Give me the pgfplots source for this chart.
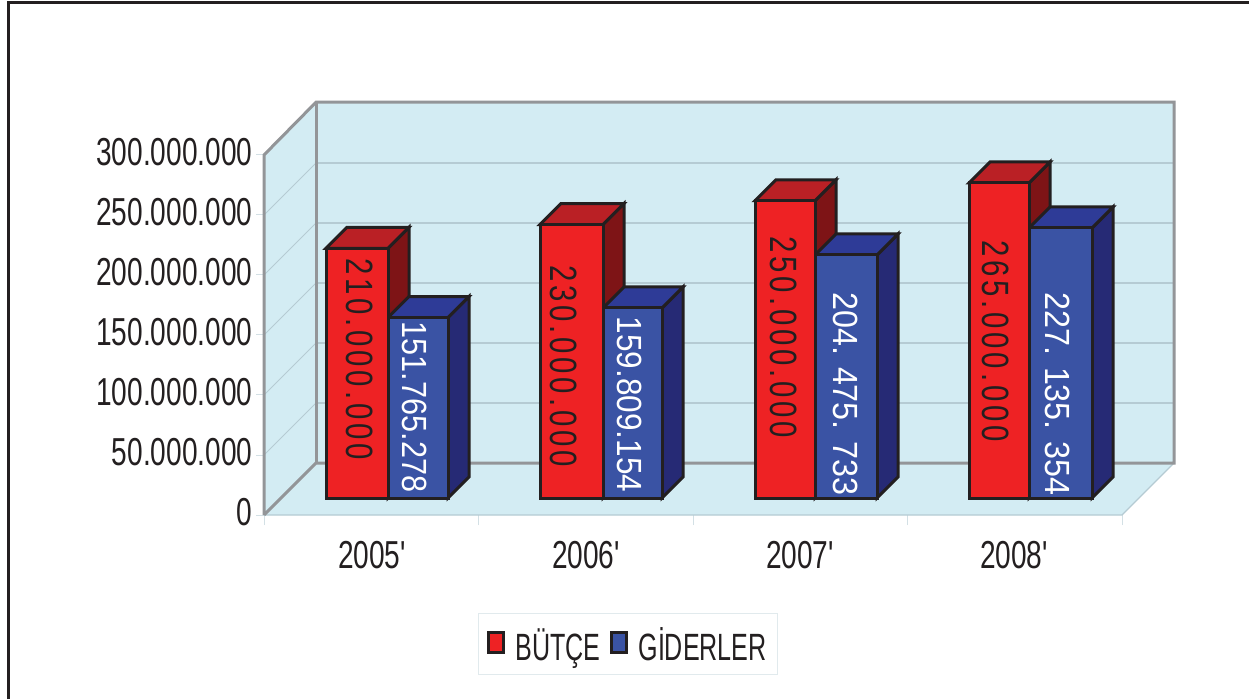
\documentclass[border=0pt]{standalone}
\usepackage{fontspec}
\usepackage{graphicx}
\usepackage{pgfplots}
\pgfplotsset{compat=1.18}
\setmainfont[FakeStretch=0.72, Ligatures=TeXOff]{Liberation Sans}
\newfontfamily\wide{Liberation Sans}
\newfontfamily\spaced[FakeStretch=0.8, LetterSpace=10.5]{Liberation Sans}
\newfontfamily\lgd[FakeStretch=0.66]{Liberation Sans}
\definecolor{ink}{HTML}{231F20}
\definecolor{wall}{HTML}{D3ECF3}
\definecolor{edge}{HTML}{939598}
\definecolor{gridc}{HTML}{B5CBD3}
\definecolor{redf}{HTML}{EE2224}
\definecolor{redt}{HTML}{BA2025}
\definecolor{reds}{HTML}{7E1416}
\definecolor{bluef}{HTML}{3A53A4}
\definecolor{bluet}{HTML}{2E3B97}
\definecolor{blues}{HTML}{262A75}
% top and side face of a bar: x0, x1, x1+depth, x0+depth, value, value+depth, colours
\newcommand{\cube}[8]{%
  \addplot[forget plot, draw=ink, line width=3pt, fill=#8] coordinates {(#2,0) (#3,17660000) (#3,#6) (#2,#5)} -- cycle;
  \addplot[forget plot, draw=ink, line width=3pt, fill=#7] coordinates {(#1,#5) (#4,#6) (#3,#6) (#2,#5)} -- cycle;
}
% values written down the bars: x, y, length scale, text
\newcommand{\redlab}[4]{\node[rotate=270, text=ink, inner sep=0pt] at (#1,{699-#2}) {\scalebox{#3}[1]{\spaced\fontsize{38}{38}\selectfont #4}};}
\newcommand{\bluelab}[4]{\node[rotate=270, text=white, inner sep=0pt] at (#1,{699-#2}) {\scalebox{#3}[0.92]{\wide\fontsize{38}{38}\selectfont #4}};}
\begin{document}
\begin{tikzpicture}[x=1pt,y=1pt]
\path[use as bounding box, fill=white] (0,0) rectangle (1249,699);
\draw[ink, line width=3pt] (8,0) -- (8,696) -- (1249,696);
% walls, floor, scale
\begin{axis}[
  at={(264pt,184pt)}, anchor=south west, scale only axis, width=858pt, height=360pt,
  xmin=264, xmax=1122, ymin=0, ymax=300000000, clip=false,
  axis line style={draw=none},
  xtick={372,586,800,1014}, xticklabels={2005',2006',2007',2008'},
  minor xtick={264,478.5,693,907.5,1122},
  ytick={0,50000000,100000000,150000000,200000000,250000000,300000000},
  xtick pos=bottom, ytick pos=left, tick align=outside,
  major tick length=8pt, minor tick length=10pt,
  major x tick style={draw=none},
  minor x tick style={draw=gridc!60, line width=1pt},
  major y tick style={draw=gridc!60, line width=1pt},
  scaled y ticks=false,
  /pgf/number format/fixed, /pgf/number format/1000 sep={.}, /pgf/number format/assume math mode=true,
  ticklabel style={font=\fontsize{39}{39}\selectfont, text=ink},
  yticklabel style={yshift=3pt, xshift=0pt},
  xticklabel style={yshift=-15pt},
]
\addplot[draw=none, fill=wall] coordinates {(316,344000000) (1174,344000000) (1174,43333333) (316,43333333)} -- cycle;
\addplot[draw=none, fill=wall] coordinates {(264,300000000) (316,344000000) (316,43333333) (264,0)} -- cycle;
\addplot[draw=none, fill=wall] coordinates {(264,0) (1122,0) (1174,43333333) (316,43333333)} -- cycle;
% back wall lines
\addplot[gridc, line width=1.2pt] coordinates {(316,93333333) (1174,93333333)};
\addplot[gridc, line width=1.2pt] coordinates {(316,143333333) (1174,143333333)};
\addplot[gridc, line width=1.2pt] coordinates {(316,193333333) (1174,193333333)};
\addplot[gridc, line width=1.2pt] coordinates {(316,243333333) (1174,243333333)};
\addplot[gridc, line width=1.2pt] coordinates {(316,293333333) (1174,293333333)};
% side wall lines
\addplot[gridc, line width=0.8pt] coordinates {(264,50000000) (316,93333333)};
\addplot[gridc, line width=0.8pt] coordinates {(264,100000000) (316,143333333)};
\addplot[gridc, line width=0.8pt] coordinates {(264,150000000) (316,193333333)};
\addplot[gridc, line width=0.8pt] coordinates {(264,200000000) (316,243333333)};
\addplot[gridc, line width=0.8pt] coordinates {(264,250000000) (316,293333333)};
% floor front edges
\addplot[gridc, line width=1.2pt] coordinates {(264,0) (1122,0) (1174,43333333)};
% frame of the walls
\addplot[edge, line width=3pt] coordinates {(264,0) (264,300000000) (316,344000000) (1174,344000000) (1174,43333333) (316,43333333) (264,0)};
\addplot[edge, line width=3pt] coordinates {(316,344000000) (316,43333333)};
\end{axis}
% bars, standing a little back from the front edge
\begin{axis}[
  at={(264pt,201pt)}, anchor=south west, scale only axis, width=858pt, height=356.7pt,
  xmin=264, xmax=1122, ymin=0, ymax=300000000, clip=false, hide axis,
  legend columns=2,
  legend image code/.code={\path[draw=none, fill=none] (0pt,-14pt) -- (0pt,14pt); \draw[#1, line width=3pt] (0pt,-9pt) rectangle (15pt,11pt);},
  legend style={at={(0.2494,-0.3224)}, anchor=north west, draw=gridc!40!white, line width=1pt,
    inner xsep=9pt, inner ysep=10pt, font=\lgd\fontsize{38}{38}\selectfont,
    text=ink, cells={anchor=west}, column sep=8pt},
]
\cube{326}{388}{409}{347}{210000000}{227660000}{redt}{reds}
\cube{540}{603}{624}{561}{230000000}{247660000}{redt}{reds}
\cube{755}{815}{836}{776}{250000000}{267660000}{redt}{reds}
\cube{969}{1029}{1050}{990}{265000000}{282660000}{redt}{reds}
\cube{388}{448}{469}{409}{151765278}{169425278}{bluet}{blues}
\cube{603}{662}{683}{624}{159809154}{177469154}{bluet}{blues}
\cube{815}{877}{898}{836}{204475733}{222135733}{bluet}{blues}
\cube{1029}{1092}{1113}{1050}{227135354}{244795354}{bluet}{blues}
\addplot[draw=ink, line width=3pt, fill=redf] coordinates {(326,0) (326,210000000) (388,210000000) (388,0)} -- cycle;
\addlegendentry{\rule[-19pt]{0pt}{54pt}BÜTÇE}
\addplot[draw=ink, line width=3pt, fill=bluef] coordinates {(388,0) (388,151765278) (448,151765278) (448,0)} -- cycle;
\addlegendentry{\rule[-19pt]{0pt}{54pt}GİDERLER}
\addplot[forget plot, draw=ink, line width=3pt, fill=redf] coordinates {(540,0) (540,230000000) (603,230000000) (603,0)} -- cycle;
\addplot[forget plot, draw=ink, line width=3pt, fill=bluef] coordinates {(603,0) (603,159809154) (662,159809154) (662,0)} -- cycle;
\addplot[forget plot, draw=ink, line width=3pt, fill=redf] coordinates {(755,0) (755,250000000) (815,250000000) (815,0)} -- cycle;
\addplot[forget plot, draw=ink, line width=3pt, fill=bluef] coordinates {(815,0) (815,204475733) (877,204475733) (877,0)} -- cycle;
\addplot[forget plot, draw=ink, line width=3pt, fill=redf] coordinates {(969,0) (969,265000000) (1029,265000000) (1029,0)} -- cycle;
\addplot[forget plot, draw=ink, line width=3pt, fill=bluef] coordinates {(1029,0) (1029,227135354) (1092,227135354) (1092,0)} -- cycle;
\end{axis}
\redlab{360}{359}{0.965}{210.000.000}
\bluelab{415}{407}{0.806}{151.765.278}
\redlab{564}{366}{0.965}{230.000.000}
\bluelab{630}{404.5}{0.83}{159.809.154}
\redlab{784}{337.5}{0.965}{250.000.000}
\bluelab{845.5}{394}{0.85}{204. 475. 733}
\redlab{996}{341}{0.965}{265.000.000}
\bluelab{1057.5}{394}{0.85}{227. 135. 354}
\end{tikzpicture}
\end{document}
